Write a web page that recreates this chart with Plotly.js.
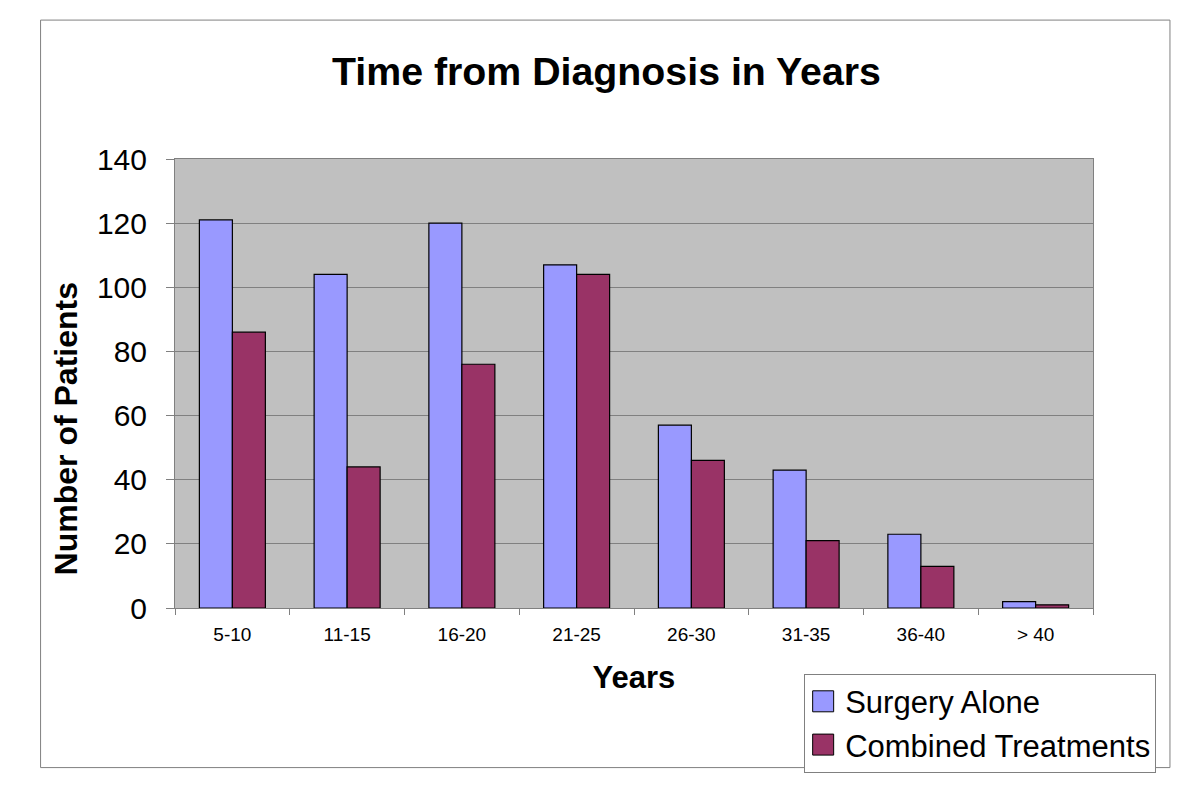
<!DOCTYPE html>
<html>
<head>
<meta charset="utf-8">
<script src="https://cdn.plot.ly/plotly-3.0.1.min.js"></script>
<style>
  html, body { margin: 0; padding: 0; background: #ffffff; }
  #chart { width: 1200px; height: 808px; }
</style>
</head>
<body>
<div id="chart"></div>
<script>
// ---- data ----
const categories = ["5-10", "11-15", "16-20", "21-25", "26-30", "31-35", "36-40", "> 40"];
const surgeryAlone = [121, 104, 120, 107, 57, 43, 23, 2];
const combinedTreatments = [86, 44, 76, 104, 46, 21, 13, 1];
const seriesNames = ["Surgery Alone", "Combined Treatments"];
const yTickValues = [0, 20, 40, 60, 80, 100, 120, 140];
const chartTitle = "Time from Diagnosis in Years";
const xTitle = "Years";
const yTitle = "Number of Patients";

// ---- layout geometry (pixels) ----
const W = 1200, H = 808;
const plotL = 174.5, plotR = 1093, plotT = 159, plotB = 608.3;
const pw = plotR - plotL, ph = plotB - plotT;
const px = x => (x - plotL) / pw;
const py = y => (plotB - y) / ph;

const FONT = "Liberation Sans, Arial, sans-serif";

const traces = [
  {
    type: "bar", name: seriesNames[0], x: categories, y: surgeryAlone,
    marker: { color: "#9999FF", line: { color: "#000000", width: 1.2 } },
    hoverinfo: "x+y+name"
  },
  {
    type: "bar", name: seriesNames[1], x: categories, y: combinedTreatments,
    marker: { color: "#993366", line: { color: "#000000", width: 1.2 } },
    hoverinfo: "x+y+name"
  }
];

const layout = {
  width: W, height: H,
  margin: { l: plotL, r: W - plotR, t: plotT, b: H - plotB, autoexpand: false },
  paper_bgcolor: "#ffffff",
  plot_bgcolor: "#C0C0C0",
  font: { family: FONT, color: "#000000" },
  barmode: "group",
  bargap: 0.425,
  bargroupgap: 0,
  title: {
    text: "<b>" + chartTitle + "</b>",
    font: { family: FONT, size: 39.3, color: "#000000" },
    xref: "container", x: 606.5 / W, xanchor: "center",
    yref: "container", y: 1 - 71 / H, yanchor: "middle"
  },
  xaxis: {
    type: "category",
    tickson: "boundaries",
    ticks: "outside", ticklen: 6, tickcolor: "#808080", tickwidth: 1,
    ticklabelstandoff: 9,
    tickfont: { family: FONT, size: 19, color: "#000000" },
    showline: true, linecolor: "#808080", linewidth: 1, mirror: true,
    showgrid: false, zeroline: false,
    automargin: false,
    title: {
      text: "<b>" + xTitle + "</b>",
      font: { family: FONT, size: 31, color: "#000000" },
      standoff: 22
    }
  },
  yaxis: {
    range: [0, 140],
    tickvals: yTickValues,
    ticks: "outside", ticklen: 8, tickcolor: "#808080", tickwidth: 1,
    ticklabelstandoff: 13,
    tickfont: { family: FONT, size: 30, color: "#000000" },
    showline: true, linecolor: "#808080", linewidth: 1, mirror: true,
    showgrid: true, gridcolor: "#808080", gridwidth: 1,
    zeroline: false,
    automargin: false
  },
  annotations: [
    {
      text: "<b>" + yTitle + "</b>",
      xref: "paper", yref: "paper",
      x: px(65), y: py(429), xanchor: "center", yanchor: "middle",
      textangle: -90, showarrow: false,
      font: { family: FONT, size: 32, color: "#000000" }
    }
  ],
  showlegend: true,
  legend: {
    x: px(804), xanchor: "left",
    y: py(674), yanchor: "top",
    bgcolor: "#ffffff", bordercolor: "#808080", borderwidth: 1,
    font: { family: FONT, size: 31, color: "#000000" },
    tracegroupgap: 0
  },
  shapes: [
    {
      type: "rect", xref: "paper", yref: "paper", layer: "below",
      x0: px(40), x1: px(1170), y0: py(768), y1: py(20),
      line: { color: "#808080", width: 1 }, fillcolor: "rgba(0,0,0,0)"
    }
  ]
};

Plotly.newPlot("chart", traces, layout, { displayModeBar: false }).then(gd => {
  // enlarge legend swatches to match the reference's square keys
  gd.querySelectorAll(".legend .legendpoints path").forEach(p => {
    p.setAttribute("d", "M10.5,10.5H-10.5V-10.5H10.5Z");
    p.setAttribute("transform", "translate(18,0)");
    p.style.strokeWidth = "1px";
  });
});
</script>
</body>
</html>
